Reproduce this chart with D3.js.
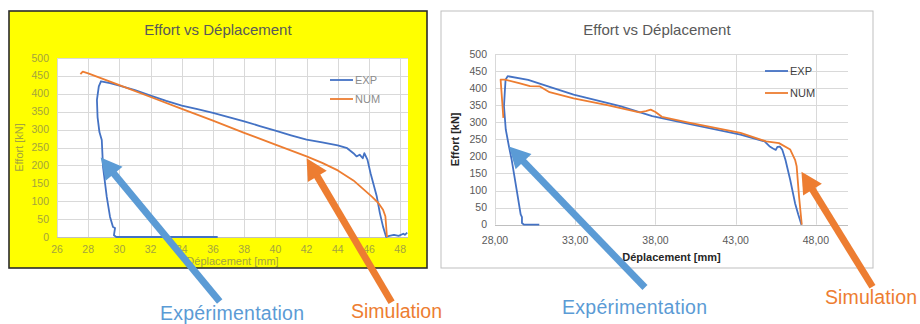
<!DOCTYPE html>
<html>
<head>
<meta charset="utf-8">
<script src="https://cdn.jsdelivr.net/npm/d3@7"></script>
<style>
	body { margin: 0; background: #fff; }
	svg { display: block; font-family: "Liberation Sans", Arial, sans-serif; }
</style>
</head>
<body>
<svg id="chart" width="920" height="324"></svg>
<script>
// values, [déplacement mm, effort kN]
const seriesNames = ["EXP", "NUM"];
const yTicks = [0, 50, 100, 150, 200, 250, 300, 350, 400, 450, 500];
const leftXTicks = [26, 28, 30, 32, 34, 36, 38, 40, 42, 44, 46, 48];
const rightXTicks = [28, 33, 38, 43, 48];

const expLeft = [[36.3, 0], [33, 0], [29.8, 0], [29.65, 5], [29.72, 25], [29.59, 28], [29.4, 56], [29.19, 112],
	[28.95, 196], [28.87, 271], [28.72, 293], [28.6, 335], [28.56, 383], [28.68, 421], [28.82, 435], [29.4, 430],
	[30, 423], [31, 410], [32, 395], [33, 380], [34, 367], [35, 357], [36, 347], [37, 335], [38, 323], [39, 310],
	[40, 297], [41, 284], [42, 272], [43, 264], [44, 256], [44.6, 248], [45.0, 234], [45.2, 225], [45.4, 230],
	[45.6, 220], [45.7, 234], [45.9, 216], [46.1, 178], [46.5, 113], [46.7, 66], [46.9, 29], [47.1, 0], [47.3, 3],
	[47.6, 6], [47.9, 3], [48.2, 9], [48.3, 6], [48.45, 12]];
const numLeft = [[27.5, 455], [27.65, 462], [28, 457], [30, 424], [32, 391], [34, 358], [36, 325], [38, 291],
	[40, 258], [42, 225], [43, 207], [44, 186], [45, 158], [45.6, 135], [46.2, 112], [46.6, 95], [46.9, 76],
	[47.05, 58], [47.1, 30], [47.15, 0]];

const expRight = [[30.76, 0], [29.8, 0], [29.68, 5], [29.68, 22], [29.6, 30], [29.35, 102], [29.04, 190],
	[28.87, 229], [28.67, 279], [28.56, 347], [28.62, 396], [28.66, 425], [28.79, 435], [30.07, 424], [31.5, 402],
	[32.9, 381], [35.8, 347], [37.8, 318], [40, 296], [43.3, 264], [44.8, 244], [45.1, 230], [45.3, 224],
	[45.5, 219], [45.6, 228], [45.75, 229], [45.9, 220], [46.1, 190], [46.4, 131], [46.7, 63], [46.9, 30], [47.1, 0]];
const numRight = [[28.52, 313], [28.45, 360], [28.35, 425], [28.62, 425], [29.5, 415], [30.18, 406], [30.8, 405],
	[31.4, 388], [32.9, 370], [35, 350], [37, 329], [37.4, 333], [37.7, 337], [38.0, 330], [38.4, 316], [40, 300],
	[43.3, 269], [44.9, 244], [45.7, 239], [46.4, 220], [46.7, 190], [46.8, 171], [46.95, 82], [47.1, 9], [47.12, 0]];

const colors = { EXP: "#4472c4", NUM: "#ed7d31" };
const svg = d3.select("#chart");

function drawChart(cfg) {
	const g = svg.append("g");

	// panel
	g.append("rect")
		.attr("x", cfg.panel[0]).attr("y", cfg.panel[1])
		.attr("width", cfg.panel[2]).attr("height", cfg.panel[3])
		.attr("fill", cfg.bg)
		.attr("stroke", cfg.border)
		.attr("stroke-width", cfg.borderWidth);

	const x = d3.scaleLinear().domain(cfg.xDomain).range(cfg.xRange),
		y = d3.scaleLinear().domain([0, 500]).range(cfg.yRange);

	g.append("rect")
		.attr("x", cfg.xRange[0]).attr("y", cfg.yRange[1])
		.attr("width", cfg.xRange[1] - cfg.xRange[0])
		.attr("height", cfg.yRange[0] - cfg.yRange[1])
		.attr("fill", "#fff");

	// gridlines
	g.append("g").selectAll("line").data(yTicks).join("line")
		.attr("x1", cfg.xRange[0]).attr("x2", cfg.xRange[1])
		.attr("y1", d => Math.round(y(d)) + .5).attr("y2", d => Math.round(y(d)) + .5)
		.attr("stroke", d => d === 0 ? "#bfbfbf" : "#d9d9d9");
	g.append("g").selectAll("line").data(cfg.xTicks).join("line")
		.attr("x1", d => Math.round(x(d)) + .5).attr("x2", d => Math.round(x(d)) + .5)
		.attr("y1", cfg.yRange[0]).attr("y2", cfg.yRange[1])
		.attr("stroke", "#d9d9d9");

	// tick labels
	g.append("g").selectAll("text").data(yTicks).join("text")
		.attr("x", cfg.xRange[0] - 8).attr("y", d => y(d) + 3.5)
		.attr("text-anchor", "end")
		.attr("font-size", 10.5)
		.attr("fill", cfg.tickColor)
		.text(d => d);
	g.append("g").selectAll("text").data(cfg.xTicks).join("text")
		.attr("x", d => x(d)).attr("y", cfg.yRange[0] + cfg.xTickGap)
		.attr("text-anchor", "middle")
		.attr("font-size", 10.5)
		.attr("fill", cfg.tickColor)
		.text(cfg.xFormat);

	// titles
	const cx = (cfg.xRange[0] + cfg.xRange[1]) / 2;
	g.append("text")
		.attr("x", cfg.panel[0] + cfg.panel[2] / 2).attr("y", 35)
		.attr("text-anchor", "middle")
		.attr("font-size", 15)
		.attr("fill", "#595959")
		.text("Effort vs Déplacement");
	g.append("text")
		.attr("x", cx).attr("y", cfg.xLabelY)
		.attr("text-anchor", "middle")
		.attr("font-size", 11)
		.attr("font-weight", cfg.labelWeight)
		.attr("fill", cfg.labelColor)
		.text("Déplacement [mm]");
	g.append("text")
		.attr("transform", `translate(${cfg.yLabelX},${(cfg.yRange[0] + cfg.yRange[1]) / 2}) rotate(-90)`)
		.attr("text-anchor", "middle")
		.attr("font-size", 11)
		.attr("font-weight", cfg.labelWeight)
		.attr("fill", cfg.labelColor)
		.text("Effort [kN]");

	// series
	const line = d3.line().x(d => x(d[0])).y(d => y(d[1]));
	[cfg.exp, cfg.num].forEach((data, i) => {
		g.append("path")
			.attr("d", line(data))
			.attr("fill", "none")
			.attr("stroke", colors[seriesNames[i]])
			.attr("stroke-width", 1.8)
			.attr("stroke-linejoin", "round");
	});

	// legend
	seriesNames.forEach((name, i) => {
		const ly = cfg.legend[1] + i * cfg.legend[2];
		g.append("line")
			.attr("x1", cfg.legend[0]).attr("x2", cfg.legend[0] + 23)
			.attr("y1", ly).attr("y2", ly)
			.attr("stroke", colors[name]).attr("stroke-width", 1.8);
		g.append("text")
			.attr("x", cfg.legend[0] + 25).attr("y", ly + 4)
			.attr("font-size", 11)
			.attr("fill", cfg.legendColor)
			.text(name);
	});

	return { x, y };
}

function arrow(tx, ty, dx, dy, color) {
	// tip at (tx,ty), tail offset by (dx,dy)
	const len = Math.hypot(dx, dy), ux = -dx / len, uy = -dy / len,
		headLen = 21, halfW = 11,
		bx = tx - ux * headLen, by = ty - uy * headLen;
	svg.append("line")
		.attr("x1", tx + dx).attr("y1", ty + dy)
		.attr("x2", bx + ux * 2).attr("y2", by + uy * 2)
		.attr("stroke", color).attr("stroke-width", 7);
	svg.append("polygon")
		.attr("points", [[tx, ty], [bx - uy * halfW, by + ux * halfW], [bx + uy * halfW, by - ux * halfW]].join(" "))
		.attr("fill", color);
}

function note(x, yy, txt, color, len) {
	svg.append("text")
		.attr("x", x).attr("y", yy)
		.attr("font-size", 19.5)
		.attr("fill", color)
		.attr("textLength", len)
		.attr("lengthAdjust", "spacing")
		.text(txt);
}

const left = drawChart({
	panel: [9, 11, 418, 257], bg: "#ffff00", border: "#2b2b2b", borderWidth: 1.6,
	xDomain: [26, 48.5], xRange: [57, 408], yRange: [237, 58],
	xTicks: leftXTicks, xFormat: d => d, xTickGap: 16,
	tickColor: "#a3a33f", labelColor: "#a3a33f", labelWeight: "normal",
	xLabelY: 265, yLabelX: 23,
	legend: [330, 80, 19], legendColor: "#8c8c8c",
	exp: expLeft, num: numLeft
});

const right = drawChart({
	panel: [441, 11, 432, 257], bg: "#fff", border: "#bfbfbf", borderWidth: 1,
	xDomain: [28, 50], xRange: [495, 848], yRange: [224.7, 54],
	xTicks: rightXTicks, xFormat: d => d3.format(".2f")(d).replace(".", ","), xTickGap: 19,
	tickColor: "#595959", labelColor: "#262626", labelWeight: "bold",
	xLabelY: 261, yLabelX: 459,
	legend: [765, 71, 22], legendColor: "#404040",
	exp: expRight, num: numRight
});

// callout arrows, tips anchored on the data scales
arrow(left.x(28.8), left.y(222), 119, 144, "#5b9bd5");
arrow(left.x(42.0), left.y(220), 85, 144, "#ed7d31");
arrow(right.x(28.87), right.y(229), 136, 141, "#5b9bd5");
arrow(right.x(47.1), right.y(155), 71, 115, "#ed7d31");

note(160, 320, "Expérimentation", "#5b9bd5", 144);
note(351, 318, "Simulation", "#ed7d31", 91);
note(562, 314, "Expérimentation", "#5b9bd5", 145);
note(825, 304, "Simulation", "#ed7d31", 92);
</script>
</body>
</html>
